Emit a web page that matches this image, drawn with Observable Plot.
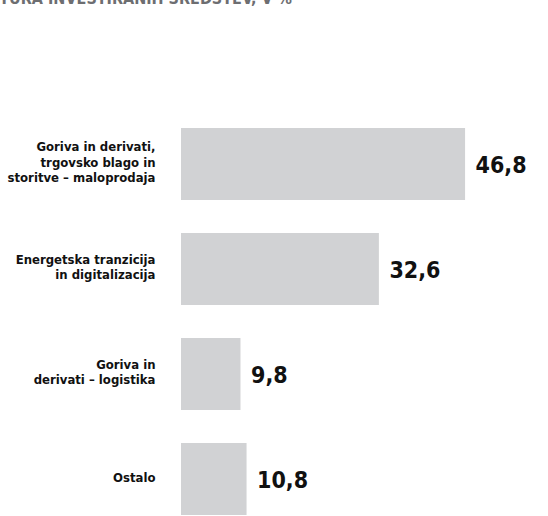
<!DOCTYPE html>
<html>
<head>
<meta charset="utf-8">
<script src="https://cdn.jsdelivr.net/npm/d3@7"></script>
<script src="https://cdn.jsdelivr.net/npm/@observablehq/plot@0.6"></script>
<style>
  html, body { margin: 0; padding: 0; background: #fff; overflow: hidden; }
  #wrap { position: relative; width: 548px; height: 516px; overflow: hidden; }
  #title {
    position: absolute; right: 256px; top: -9px; white-space: nowrap;
    font-family: "DejaVu Sans Condensed", "DejaVu Sans", sans-serif;
    font-stretch: condensed; font-weight: bold; font-size: 16px; line-height: 1; color: #6d6e71;
  }
  #chart { position: absolute; left: 0; top: 0; }
</style>
</head>
<body>
<div id="wrap">
  <div id="title">STRUKTURA INVESTIRANIH SREDSTEV, V %</div>
  <div id="chart"></div>
</div>
<script>
const categories = [
  "Goriva in derivati,\ntrgovsko blago in\nstoritve – maloprodaja",
  "Energetska tranzicija\nin digitalizacija",
  "Goriva in\nderivati – logistika",
  "Ostalo"
];
const values = [46.8, 32.6, 9.8, 10.8];

const data = categories.map((c, i) => ({category: c, value: values[i]}));
const fmt = v => d3.format(".1f")(v).replace(".", ",");
const font = '"DejaVu Sans Condensed", "DejaVu Sans", sans-serif';

const chart = Plot.plot({
  width: 548,
  height: 516,
  margin: 0,
  style: {fontFamily: font, background: "transparent"},
  x: {domain: [0, 50], range: [181, 484.5], axis: null},
  y: {domain: categories, range: [111.5, 531.5], paddingInner: 0.314, paddingOuter: 0.157, axis: null},
  marks: [
    Plot.barX(data, {x: "value", y: "category", fill: "#d1d2d4"}),
    Plot.text(data, {
      x: 0, y: "category", text: "category", textAnchor: "end", dx: -26, dy: -3,
      lineAnchor: "middle", lineHeight: 1.2, fontSize: 13, fontWeight: "bold", fill: "#111"
    }),
    Plot.text(data, {
      x: "value", y: "category", text: d => fmt(d.value), textAnchor: "start", dx: 10, dy: 1,
      lineAnchor: "middle", fontSize: 23, fontWeight: "bold", fill: "#111"
    })
  ]
});
chart.style.fontStretch = "condensed";
document.getElementById("chart").append(chart);
</script>
</body>
</html>
